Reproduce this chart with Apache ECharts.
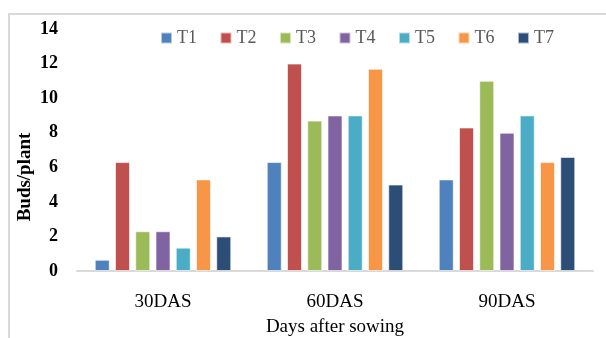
<!DOCTYPE html>
<html>
<head>
<meta charset="utf-8">
<script src="https://cdn.jsdelivr.net/npm/echarts@6/dist/echarts.min.js"></script>
<style>
  html, body { margin: 0; padding: 0; background: #fff; }
  #chart { width: 606px; height: 338px; }
</style>
</head>
<body>
<div id="chart"></div>
<script>
const categories = ['30DAS', '60DAS', '90DAS']
const seriesNames = ['T1', 'T2', 'T3', 'T4', 'T5', 'T6', 'T7']
const t1 = [0.65, 6.3, 5.3]
const t2 = [6.3, 12.0, 8.3]
const t3 = [2.3, 8.7, 11.0]
const t4 = [2.3, 9.0, 8.0]
const t5 = [1.35, 9.0, 9.0]
const t6 = [5.3, 11.7, 6.3]
const t7 = [2.0, 5.0, 6.6]
const yTicks = [0, 2, 4, 6, 8, 10, 12, 14]

const values = [t1, t2, t3, t4, t5, t6, t7]
const colors = ['#4F81BD', '#C0504D', '#9BBB59', '#8064A2', '#4BACC6', '#F79646', '#2C4D75']

const chart = echarts.init(document.getElementById('chart'))

const option = {
  animation: false,
  color: colors,
  graphic: [
    {
      type: 'rect',
      shape: { x: 9, y: 14, width: 620, height: 340 },
      style: { fill: 'none', stroke: '#D9D9D9', lineWidth: 2 },
      silent: true
    }
  ],
  legend: {
    left: 160,
    top: 29,
    padding: 0,
    itemWidth: 11,
    itemHeight: 11,
    itemGap: 22.5,
    icon: 'rect',
    textStyle: { fontFamily: 'Liberation Serif', fontSize: 18, color: '#595959' },
    data: seriesNames
  },
  grid: {
    left: 77,
    right: 13,
    top: 29,
    bottom: 67,
    outerBoundsMode: 'none'
  },
  xAxis: {
    type: 'category',
    data: categories,
    name: 'Days after sowing',
    nameLocation: 'middle',
    nameGap: 47,
    nameTextStyle: { fontFamily: 'Liberation Serif', fontSize: 19, color: '#000' },
    axisLine: { lineStyle: { color: '#D9D9D9', width: 2 } },
    axisTick: { show: false },
    axisLabel: { margin: 22, fontFamily: 'Liberation Serif', fontSize: 19, color: '#000' }
  },
  yAxis: {
    type: 'value',
    min: yTicks[0],
    max: yTicks[yTicks.length - 1],
    interval: 2,
    name: 'Buds/plant',
    nameLocation: 'middle',
    nameGap: 42,
    nameMoveOverlap: false,
    nameTextStyle: {
      fontFamily: 'Liberation Serif', fontSize: 19, fontWeight: 'bold', color: '#000',
      padding: [0, 54, 0, 0]
    },
    axisLine: { show: false },
    axisTick: { show: false },
    splitLine: { show: false },
    axisLabel: { margin: 19, fontFamily: 'Liberation Serif', fontSize: 18, fontWeight: 'bold', color: '#000' }
  },
  series: seriesNames.map((name, i) => ({
    name: name,
    type: 'bar',
    data: values[i],
    barWidth: 15,
    barGap: '35%',
    itemStyle: { borderColor: 'rgba(255,255,255,0.6)', borderWidth: 1 }
  }))
}

chart.setOption(option)
</script>
</body>
</html>
